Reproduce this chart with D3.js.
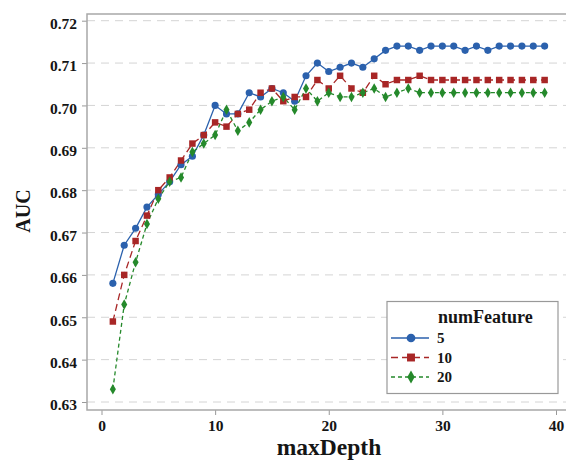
<!DOCTYPE html>
<html>
<head>
<meta charset="utf-8">
<script src="https://cdn.jsdelivr.net/npm/d3@7"></script>
<style>
  body { margin: 0; background: #fff; }
  text { font-family: "Liberation Serif", "DejaVu Serif", serif; font-weight: bold; }
</style>
</head>
<body>
<div id="chart"></div>
<script>
// AUC vs maxDepth for three numFeature settings
const depths = d3.range(1, 40);

const auc5 = [0.658, 0.667, 0.671, 0.676, 0.679, 0.682, 0.686, 0.688, 0.693, 0.700,
  0.698, 0.698, 0.703, 0.702, 0.704, 0.703, 0.701, 0.707, 0.710, 0.708,
  0.709, 0.710, 0.709, 0.711, 0.713, 0.714, 0.714, 0.713, 0.714, 0.714,
  0.714, 0.713, 0.714, 0.713, 0.714, 0.714, 0.714, 0.714, 0.714];

const auc10 = [0.649, 0.660, 0.668, 0.674, 0.680, 0.683, 0.687, 0.691, 0.693, 0.696,
  0.695, 0.698, 0.699, 0.703, 0.704, 0.701, 0.702, 0.702, 0.706, 0.704,
  0.707, 0.704, 0.703, 0.707, 0.705, 0.706, 0.706, 0.707, 0.706, 0.706,
  0.706, 0.706, 0.706, 0.706, 0.706, 0.706, 0.706, 0.706, 0.706];

const auc20 = [0.633, 0.653, 0.663, 0.672, 0.678, 0.682, 0.683, 0.689, 0.691, 0.693,
  0.699, 0.694, 0.696, 0.699, 0.701, 0.702, 0.699, 0.704, 0.701, 0.703,
  0.702, 0.702, 0.703, 0.704, 0.702, 0.703, 0.704, 0.703, 0.703, 0.703,
  0.703, 0.703, 0.703, 0.703, 0.703, 0.703, 0.703, 0.703, 0.703];

const seriesNames = ['5', '10', '20'];
const xTicks = [0, 10, 20, 30, 40];
const yTicks = [0.63, 0.64, 0.65, 0.66, 0.67, 0.68, 0.69, 0.70, 0.71, 0.72];

const series = [
  { name: seriesNames[0], values: auc5, color: '#2b61ad', dash: null, symbol: d3.symbolCircle, size: 40 },
  { name: seriesNames[1], values: auc10, color: '#a82626', dash: '7,4', symbol: d3.symbolSquare, size: 42 },
  { name: seriesNames[2], values: auc20, color: '#25892b', dash: '4,3', symbol: d3.symbolDiamond, size: 32 }
];

const width = 566, height = 462;
const frame = { left: 87, top: 14, bottom: 410, right: 575 };
const ink = '#151515';

const svg = d3.select('#chart').append('svg')
  .attr('width', width)
  .attr('height', height);

const x = d3.scaleLinear().domain([0, 40]).range([101.5, 556]);
const y = d3.scaleLinear().domain([0.63, 0.72]).range([402, 20.7]);

// gridlines
svg.append('g')
  .selectAll('line')
  .data(yTicks)
  .join('line')
  .attr('x1', frame.left)
  .attr('x2', frame.right)
  .attr('y1', d => y(d))
  .attr('y2', d => y(d))
  .attr('stroke', '#d4d4d4')
  .attr('stroke-width', 1)
  .attr('stroke-dasharray', '8,6');

// axes
const yAxis = svg.append('g')
  .attr('transform', `translate(${frame.left},0)`)
  .call(d3.axisLeft(y).tickValues(yTicks).tickFormat(d3.format('.2f')).tickSize(5).tickPadding(5))
  .call(g => g.select('.domain').remove());

const xAxis = svg.append('g')
  .attr('transform', `translate(0,${frame.bottom})`)
  .call(d3.axisBottom(x).tickValues(xTicks).tickSize(5).tickPadding(5))
  .call(g => g.select('.domain').remove());

[xAxis, yAxis].forEach(g => {
  g.selectAll('.tick line').attr('stroke', '#999');
  g.selectAll('.tick text')
    .attr('fill', ink)
    .style('font-family', '"Liberation Serif", serif')
    .style('font-weight', 'bold')
    .style('font-size', '15.5px');
});
yAxis.selectAll('.tick text').attr('dy', '0.5em');

// frame
svg.append('path')
  .attr('d', `M${frame.right},${frame.top}H${frame.left}V${frame.bottom}H${frame.right}`)
  .attr('fill', 'none')
  .attr('stroke', '#a8a8a8')
  .attr('stroke-width', 1.5);

// lines and markers
const line = d3.line()
  .x((d, i) => x(depths[i]))
  .y(d => y(d));

series.forEach(s => {
  svg.append('path')
    .datum(s.values)
    .attr('fill', 'none')
    .attr('stroke', s.color)
    .attr('stroke-width', 1.3)
    .attr('stroke-dasharray', s.dash)
    .attr('d', line);
});

series.forEach(s => {
  svg.append('g')
    .selectAll('path')
    .data(s.values)
    .join('path')
    .attr('transform', (d, i) => `translate(${x(depths[i])},${y(d)})`)
    .attr('d', d3.symbol(s.symbol, s.size))
    .attr('fill', s.color);
});

// axis titles
svg.append('text')
  .attr('x', 329)
  .attr('y', 455)
  .attr('text-anchor', 'middle')
  .attr('font-size', '23.5px')
  .attr('fill', ink)
  .text('maxDepth');

svg.append('text')
  .attr('transform', 'translate(30,211) rotate(-90)')
  .attr('text-anchor', 'middle')
  .attr('font-size', '20px')
  .attr('fill', ink)
  .text('AUC');

// legend
const legend = svg.append('g');

legend.append('rect')
  .attr('x', 387)
  .attr('y', 301.5)
  .attr('width', 171)
  .attr('height', 92)
  .attr('fill', '#fff')
  .attr('stroke', '#999')
  .attr('stroke-width', 1.2);

legend.append('text')
  .attr('x', 438)
  .attr('y', 323)
  .attr('font-size', '18px')
  .attr('fill', ink)
  .text('numFeature');

const item = legend.selectAll('g.item')
  .data(series)
  .join('g')
  .attr('class', 'item')
  .attr('transform', (d, i) => `translate(0,${338 + i * 19.5})`);

item.append('line')
  .attr('x1', 391)
  .attr('x2', 429)
  .attr('stroke', d => d.color)
  .attr('stroke-width', 1.3)
  .attr('stroke-dasharray', d => d.dash);

item.append('path')
  .attr('transform', 'translate(411,0)')
  .attr('d', d => d3.symbol(d.symbol, d.size * 1.5)())
  .attr('fill', d => d.color);

item.append('text')
  .attr('x', 437)
  .attr('dy', '0.35em')
  .attr('font-size', '15px')
  .attr('fill', ink)
  .text(d => d.name);
</script>
</body>
</html>
